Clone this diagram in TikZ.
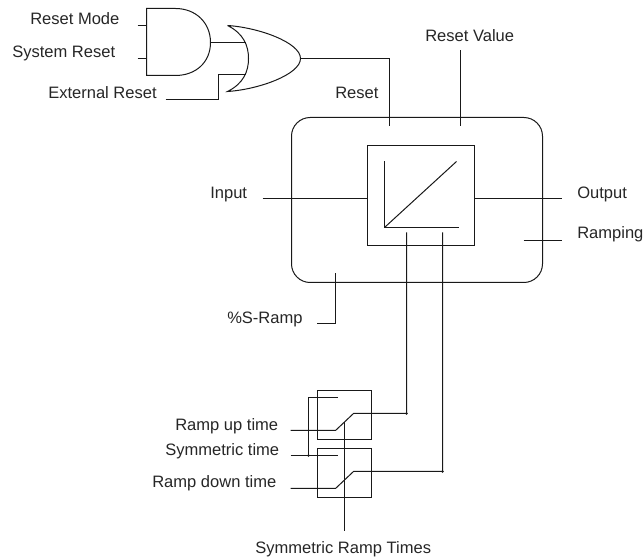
\documentclass[tikz,border=0pt]{standalone}
\usepackage{fontspec}
\setmainfont{Liberation Sans}
\tikzset{
  lbl/.style={anchor=base west,inner sep=0pt,font=\fontsize{12.4}{14}\selectfont,text=black!85},
  wire/.style={draw=black!90,line width=0.75pt},
  boxed/.style={draw=black!90,line width=0.75pt,inner sep=0pt,outer sep=0pt,fill=none},
  dot/.style={circle,fill=black!90,inner sep=0pt,minimum size=2.2pt}
}
\begin{document}
\begin{tikzpicture}[x=0.75pt,y=-0.75pt]
\useasboundingbox (0,0) rectangle (643,559);
% labels
\node[lbl] (lmode) at (30,25) {Reset Mode};
\node[lbl] (lsys) at (12,58) {System Reset};
\node[lbl] (lext) at (48,99) {External Reset};
\node[lbl] (lreset) at (335,99) {Reset};
\node[lbl] (lval) at (425,42) {Reset Value};
\node[lbl] (lin) at (210,199) {Input};
\node[lbl] (lout) at (577,199) {Output};
\node[lbl] (lramping) at (577,239) {Ramping};
\node[lbl] (lsramp) at (227,324) {\%S-Ramp};
\node[lbl] (lup) at (175,431) {Ramp up time};
\node[lbl] (lsym) at (165,456) {Symmetric time};
\node[lbl] (ldown) at (152,488) {Ramp down time};
\node[lbl] (lsrt) at (255,554) {Symmetric Ramp Times};
\begin{scope}[xshift=0.375pt,yshift=-0.375pt]
% boxes
\node[boxed,rounded corners=14pt,minimum width=188.25pt,minimum height=123.75pt] (outer) at (416.5,199.5) {};
\node[boxed,minimum width=80.25pt,minimum height=75pt] (inner) at (420.5,195) {};
\node[boxed,minimum width=40.5pt,minimum height=36.75pt] (sw1) at (344,414.5) {};
\node[boxed,minimum width=40.5pt,minimum height=36.75pt] (sw2) at (344,472.5) {};
% AND gate
\draw[wire] (175,8) -- (146,8) -- (146,75) -- (175,75)
  .. controls (195,75) and (210,62) .. (210,42)
  .. controls (210,22) and (195,8) .. (175,8);
% OR gate
\draw[wire] (227,25) .. controls (258,27) and (300,42) .. (300,58)
  .. controls (300,74) and (258,89) .. (227,91)
  .. controls (243,83) and (248,71) .. (248,58)
  .. controls (248,45) and (243,33) .. (227,25);
% free ends and bends
\coordinate (a1) at (137,25); \coordinate (a1e) at (146,25);
\coordinate (a2) at (137,58); \coordinate (a2e) at (146,58);
\coordinate (ao) at (210,42); \coordinate (oi1) at (245,42);
\coordinate (oo) at (300,58);
\coordinate (rb) at (389,58); \coordinate (rt) at (389,126);
\coordinate (e0) at (165,99); \coordinate (e1) at (218,99);
\coordinate (e2) at (218,74); \coordinate (e3) at (245,74);
\coordinate (v0) at (460,50); \coordinate (v1) at (460,126);
\coordinate (i0) at (262,198); \coordinate (o1) at (561,198);
\coordinate (rp0) at (523,240); \coordinate (rp1) at (561,240);
\coordinate (s0) at (335,273); \coordinate (s1) at (335,323); \coordinate (s2) at (316,323);
% wires
\draw[wire] (a1) -- (a1e);
\draw[wire] (a2) -- (a2e);
\draw[wire] (ao) -- (oi1);
\draw[wire] (oo) -- (rb) -- (rt);
\draw[wire] (e0) -- (e1) -- (e2) -- (e3);
\draw[wire] (v0) -- (v1);
\draw[wire] (i0) -- (inner.west |- i0);
\draw[wire] (inner.east |- o1) -- (o1);
\draw[wire] (rp0) -- (rp1);
\draw[wire] (s0) -- (s1) -- (s2);
% graph symbol
\coordinate (g0) at (384,227);
\coordinate (gy) at (384,161);
\coordinate (gx) at (458,227);
\coordinate (gd) at (456,161);
\draw[wire] (gy) -- (g0) -- (gx);
\draw[wire] (g0) -- (gd);
% switches
\coordinate (u0) at (290,430); \coordinate (u1) at (335,430); \coordinate (u2) at (353,413);
\coordinate (u3) at (406,413); \coordinate (u4) at (406,232);
\coordinate (d0) at (290,488); \coordinate (d1) at (335,488); \coordinate (d2) at (353,471);
\coordinate (d3) at (442,471); \coordinate (d4) at (442,232);
\coordinate (y0) at (290,455); \coordinate (y1) at (337,455); \coordinate (yj) at (308,455);
\coordinate (y2) at (308,397); \coordinate (y3) at (337,397);
\coordinate (t0) at (344,422); \coordinate (t1) at (344,531);
\draw[wire] (u0) -- (u1) -- (u2) -- (u3) -- (u4);
\draw[wire] (d0) -- (d1) -- (d2) -- (d3) -- (d4);
\draw[wire] (y0) -- (y1);
\draw[wire] (yj) -- (y2) -- (y3);
\draw[wire] (t0) -- (t1);
\node[dot] (ju) at (u3) {};
\node[dot] (jd) at (d3) {};
\node[dot] (jy) at (yj) {};
\end{scope}
\end{tikzpicture}
\end{document}
